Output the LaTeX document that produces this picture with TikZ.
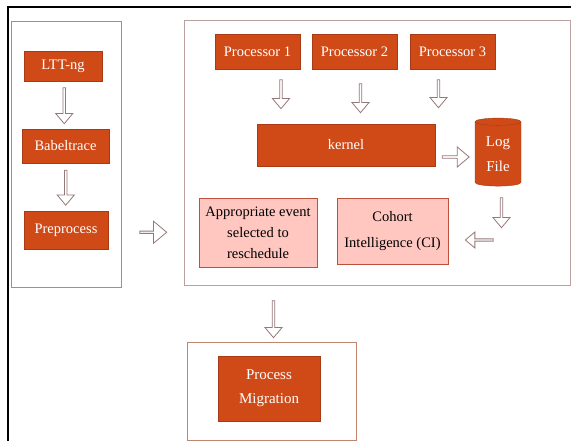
\documentclass[tikz,border=0pt]{standalone}
\usepackage{fontspec}
\setmainfont{Liberation Serif}
\usetikzlibrary{shapes, shapes.arrows, shapes.geometric, calc, shadows}
\definecolor{rust}{RGB}{208,74,24}
\definecolor{rustline}{RGB}{168,58,22}
\definecolor{blush}{RGB}{255,199,192}
\definecolor{blushline}{RGB}{192,80,62}
\definecolor{frameline}{RGB}{192,132,112}
\definecolor{greyframe}{RGB}{186,160,160}
\definecolor{arrowline}{RGB}{150,120,120}
\tikzset{
  procbox/.style = {draw = rustline, fill = rust, text = white, align = center, inner sep = 0pt},
  pinkbox/.style = {draw = blushline, fill = blush, align = center, inner sep = 0pt,
    drop shadow = {shadow xshift = 1pt, shadow yshift = -1.5pt, opacity = 0.35}},
  framebox/.style = {draw = frameline, line width = 0.8pt},
  blockarrow/.style = {single arrow, draw = arrowline, fill = white, line width = 0.8pt, inner sep = 0pt,
    minimum width = 17pt, single arrow head extend = 2.5pt, single arrow tip angle = 80, minimum height = #1}
}
\def \procwidth {85}

\begin{document}
\begin{tikzpicture}[x = 1pt, y = -1pt, font = \fontsize{14.5}{21}\selectfont]
\useasboundingbox (0,0) rectangle (571,441);

\draw[line width = 1.2pt] (8,441) -- (8,7) -- (571,7);

% frames
\node (trace_frame) [framebox, minimum width = 110, minimum height = 266] at (66,154) {};
\node (sched_frame) [framebox, draw = greyframe, minimum width = 386, minimum height = 265] at (377,152.5) {};
\node (migr_frame) [framebox, minimum width = 169, minimum height = 98] at (271.5,391) {};

% tracing side
\node (lttng) [procbox, minimum width = 78, minimum height = 30] at (63,66) {LTT-ng};
\node (babeltrace) [procbox, minimum width = 87, minimum height = 34] at (65.5,146) {Babeltrace};
\node (preprocess) [procbox, minimum width = 84, minimum height = 38] at (66,230) {Preprocess};

\node (arr_lttng) [blockarrow = 36, rotate = -90] at ($(lttng.south)!0.5!(babeltrace.north)$) {};
\node (arr_babel) [blockarrow = 35, rotate = -90] at ($(babeltrace.south)!0.5!(preprocess.north)$) {};
\node (arr_pre) [blockarrow = 27, minimum width = 22, single arrow head extend = 3.5pt] at ($(trace_frame.east)!0.5!(sched_frame.west) + (0,79)$) {};

% scheduling side
\node (proc_one) [procbox, minimum width = \procwidth, minimum height = 35] at (257.5,51.5) {Processor 1};
\node (proc_two) [procbox, minimum width = \procwidth, minimum height = 35] at (354.5,51.5) {Processor 2};
\node (proc_three) [procbox, minimum width = \procwidth, minimum height = 35] at (452.5,51.5) {Processor 3};

\node (kernel) [procbox, minimum width = 178, minimum height = 42] at (346,145) {kernel};

\node (arr_one) [blockarrow = 29, rotate = -90] at (281,93.5) {};
\node (arr_two) [blockarrow = 29, rotate = -90] at (360.5,97.5) {};
\node (arr_three) [blockarrow = 28, rotate = -90] at (438.5,93) {};

\node (log_file) [procbox, cylinder, shape border rotate = 90, aspect = 0.3, minimum width = 46, minimum height = 68, font = \fontsize{15}{25}\selectfont] at (498,154) {Log\\File};

\node (arr_kernel) [blockarrow = 27, minimum width = 20, single arrow head extend = 3pt] at ($(kernel.east)!0.5!(log_file.west) + (0,7.5)$) {};

\node (cohort) [pinkbox, minimum width = 111, minimum height = 66, font = \fontsize{14.5}{26}\selectfont] at (392.5,231) {Cohort\\Intelligence (CI)};
\node (event) [pinkbox, minimum width = 118, minimum height = 69] at (258,232.5) {Appropriate event\\selected to\\reschedule};

\node (arr_log) [blockarrow = 30, rotate = -90] at (501.5,212) {};
\node (arr_ci) [blockarrow = 28, minimum width = 16, rotate = 180] at (480,240) {};

% migration
\node (arr_sched) [blockarrow = 37, rotate = -90] at (273.5,318.5) {};
\node (migration) [procbox, minimum width = 102, minimum height = 65, font = \fontsize{15}{24}\selectfont] at (269,388.5) {Process\\Migration};

\end{tikzpicture}
\end{document}
